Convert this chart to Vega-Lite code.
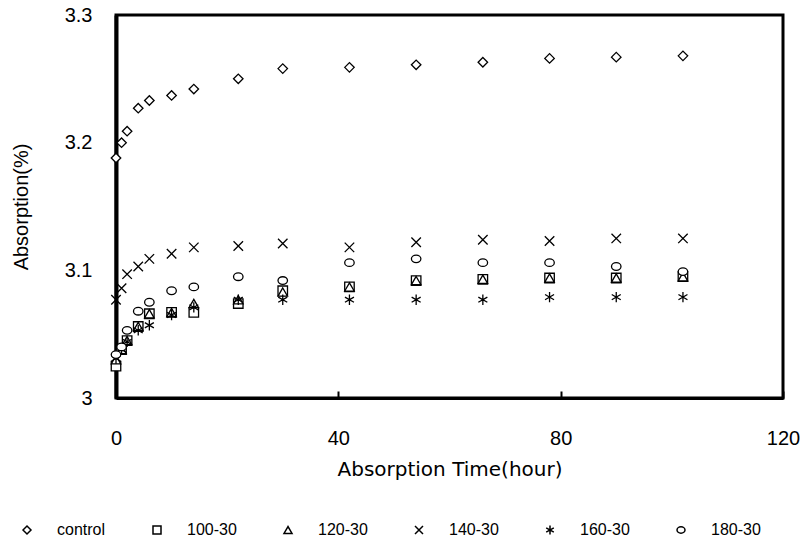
{
  "$schema": "https://vega.github.io/schema/vega-lite/v6.json",
  "width": 667,
  "height": 383,
  "autosize": {"type": "none"},
  "padding": {"left": 116, "top": 15, "right": 22, "bottom": 149},
  "background": "white",
  "config": {
    "view": {"stroke": "black", "strokeWidth": 3},
    "font": "Liberation Sans"
  },
  "data": {
    "values": [
      {"series": "control", "hour": 0, "absorption": 3.188},
      {"series": "control", "hour": 1, "absorption": 3.200},
      {"series": "control", "hour": 2, "absorption": 3.209},
      {"series": "control", "hour": 4, "absorption": 3.227},
      {"series": "control", "hour": 6, "absorption": 3.233},
      {"series": "control", "hour": 10, "absorption": 3.237},
      {"series": "control", "hour": 14, "absorption": 3.242},
      {"series": "control", "hour": 22, "absorption": 3.250},
      {"series": "control", "hour": 30, "absorption": 3.258},
      {"series": "control", "hour": 42, "absorption": 3.259},
      {"series": "control", "hour": 54, "absorption": 3.261},
      {"series": "control", "hour": 66, "absorption": 3.263},
      {"series": "control", "hour": 78, "absorption": 3.266},
      {"series": "control", "hour": 90, "absorption": 3.267},
      {"series": "control", "hour": 102, "absorption": 3.268},

      {"series": "100-30", "hour": 0, "absorption": 3.025},
      {"series": "100-30", "hour": 1, "absorption": 3.038},
      {"series": "100-30", "hour": 2, "absorption": 3.045},
      {"series": "100-30", "hour": 4, "absorption": 3.056},
      {"series": "100-30", "hour": 6, "absorption": 3.066},
      {"series": "100-30", "hour": 10, "absorption": 3.067},
      {"series": "100-30", "hour": 14, "absorption": 3.067},
      {"series": "100-30", "hour": 22, "absorption": 3.074},
      {"series": "100-30", "hour": 30, "absorption": 3.084},
      {"series": "100-30", "hour": 42, "absorption": 3.087},
      {"series": "100-30", "hour": 54, "absorption": 3.092},
      {"series": "100-30", "hour": 66, "absorption": 3.093},
      {"series": "100-30", "hour": 78, "absorption": 3.094},
      {"series": "100-30", "hour": 90, "absorption": 3.094},
      {"series": "100-30", "hour": 102, "absorption": 3.095},

      {"series": "120-30", "hour": 0, "absorption": 3.030},
      {"series": "120-30", "hour": 1, "absorption": 3.038},
      {"series": "120-30", "hour": 2, "absorption": 3.045},
      {"series": "120-30", "hour": 4, "absorption": 3.056},
      {"series": "120-30", "hour": 6, "absorption": 3.066},
      {"series": "120-30", "hour": 10, "absorption": 3.067},
      {"series": "120-30", "hour": 14, "absorption": 3.074},
      {"series": "120-30", "hour": 22, "absorption": 3.077},
      {"series": "120-30", "hour": 30, "absorption": 3.083},
      {"series": "120-30", "hour": 42, "absorption": 3.087},
      {"series": "120-30", "hour": 54, "absorption": 3.092},
      {"series": "120-30", "hour": 66, "absorption": 3.093},
      {"series": "120-30", "hour": 78, "absorption": 3.094},
      {"series": "120-30", "hour": 90, "absorption": 3.094},
      {"series": "120-30", "hour": 102, "absorption": 3.095},

      {"series": "140-30", "hour": 0, "absorption": 3.077},
      {"series": "140-30", "hour": 1, "absorption": 3.086},
      {"series": "140-30", "hour": 2, "absorption": 3.097},
      {"series": "140-30", "hour": 4, "absorption": 3.103},
      {"series": "140-30", "hour": 6, "absorption": 3.109},
      {"series": "140-30", "hour": 10, "absorption": 3.113},
      {"series": "140-30", "hour": 14, "absorption": 3.118},
      {"series": "140-30", "hour": 22, "absorption": 3.119},
      {"series": "140-30", "hour": 30, "absorption": 3.121},
      {"series": "140-30", "hour": 42, "absorption": 3.118},
      {"series": "140-30", "hour": 54, "absorption": 3.122},
      {"series": "140-30", "hour": 66, "absorption": 3.124},
      {"series": "140-30", "hour": 78, "absorption": 3.123},
      {"series": "140-30", "hour": 90, "absorption": 3.125},
      {"series": "140-30", "hour": 102, "absorption": 3.125},

      {"series": "160-30", "hour": 0, "absorption": 3.031},
      {"series": "160-30", "hour": 1, "absorption": 3.038},
      {"series": "160-30", "hour": 2, "absorption": 3.044},
      {"series": "160-30", "hour": 4, "absorption": 3.053},
      {"series": "160-30", "hour": 6, "absorption": 3.057},
      {"series": "160-30", "hour": 10, "absorption": 3.065},
      {"series": "160-30", "hour": 14, "absorption": 3.071},
      {"series": "160-30", "hour": 22, "absorption": 3.077},
      {"series": "160-30", "hour": 30, "absorption": 3.077},
      {"series": "160-30", "hour": 42, "absorption": 3.077},
      {"series": "160-30", "hour": 54, "absorption": 3.077},
      {"series": "160-30", "hour": 66, "absorption": 3.077},
      {"series": "160-30", "hour": 78, "absorption": 3.079},
      {"series": "160-30", "hour": 90, "absorption": 3.079},
      {"series": "160-30", "hour": 102, "absorption": 3.079},

      {"series": "180-30", "hour": 0, "absorption": 3.034},
      {"series": "180-30", "hour": 1, "absorption": 3.040},
      {"series": "180-30", "hour": 2, "absorption": 3.053},
      {"series": "180-30", "hour": 4, "absorption": 3.068},
      {"series": "180-30", "hour": 6, "absorption": 3.075},
      {"series": "180-30", "hour": 10, "absorption": 3.084},
      {"series": "180-30", "hour": 14, "absorption": 3.087},
      {"series": "180-30", "hour": 22, "absorption": 3.095},
      {"series": "180-30", "hour": 30, "absorption": 3.092},
      {"series": "180-30", "hour": 42, "absorption": 3.106},
      {"series": "180-30", "hour": 54, "absorption": 3.109},
      {"series": "180-30", "hour": 66, "absorption": 3.106},
      {"series": "180-30", "hour": 78, "absorption": 3.106},
      {"series": "180-30", "hour": 90, "absorption": 3.103},
      {"series": "180-30", "hour": 102, "absorption": 3.099}
    ]
  },
  "mark": {
    "type": "point",
    "strokeWidth": 1.3,
    "size": 90
  },
  "encoding": {
    "x": {
      "field": "hour",
      "type": "quantitative",
      "scale": {"domain": [0, 120], "nice": false},
      "axis": {
        "values": [0, 40, 80, 120],
        "title": "Absorption Time(hour)",
        "grid": false,
        "labelFlush": false,
        "domainColor": "black",
        "domainWidth": 3,
        "tickColor": "black",
        "tickWidth": 2,
        "tickSize": -7,
        "labelPadding": 37,
        "labelFont": "Liberation Sans",
        "labelFontSize": 20,
        "labelColor": "black",
        "titleFont": "DejaVu Sans",
        "titleFontSize": 20,
        "titleFontWeight": "normal",
        "titleColor": "black",
        "titlePadding": 11
      }
    },
    "y": {
      "field": "absorption",
      "type": "quantitative",
      "scale": {"domain": [3, 3.3], "nice": false, "zero": false},
      "axis": {
        "values": [3, 3.1, 3.2, 3.3],
        "format": "~g",
        "title": "Absorption(%)",
        "grid": false,
        "ticks": false,
        "labelFlush": false,
        "domainColor": "black",
        "domainWidth": 4,
        "labelPadding": 24,
        "labelFont": "Liberation Sans",
        "labelFontSize": 20,
        "labelColor": "black",
        "titleFont": "Liberation Sans",
        "titleFontSize": 20,
        "titleFontWeight": "normal",
        "titleColor": "black",
        "titlePadding": 33
      }
    },
    "fill": {"value": "white"},
    "stroke": {"value": "black"},
    "opacity": {"value": 1},
    "shape": {
      "field": "series",
      "type": "nominal",
      "sort": null,
      "scale": {
        "domain": ["control", "100-30", "120-30", "140-30", "160-30", "180-30"],
        "range": [
          "diamond",
          "square",
          "triangle-up",
          "M-1,-1L1,1M1,-1L-1,1",
          "M0,-1.1L0,1.1M-0.95,-0.55L0.95,0.55M-0.95,0.55L0.95,-0.55",
          "M-1,0A1,0.8 0 1,1 1,0A1,0.8 0 1,1 -1,0Z"
        ]
      },
      "legend": {
        "title": null,
        "orient": "none",
        "direction": "horizontal",
        "legendX": -97,
        "legendY": 507,
        "columnPadding": 43,
        "symbolSize": 64,
        "labelOffset": 22,
        "labelFont": "Liberation Sans",
        "labelFontSize": 16,
        "labelColor": "black"
      }
    }
  }
}
